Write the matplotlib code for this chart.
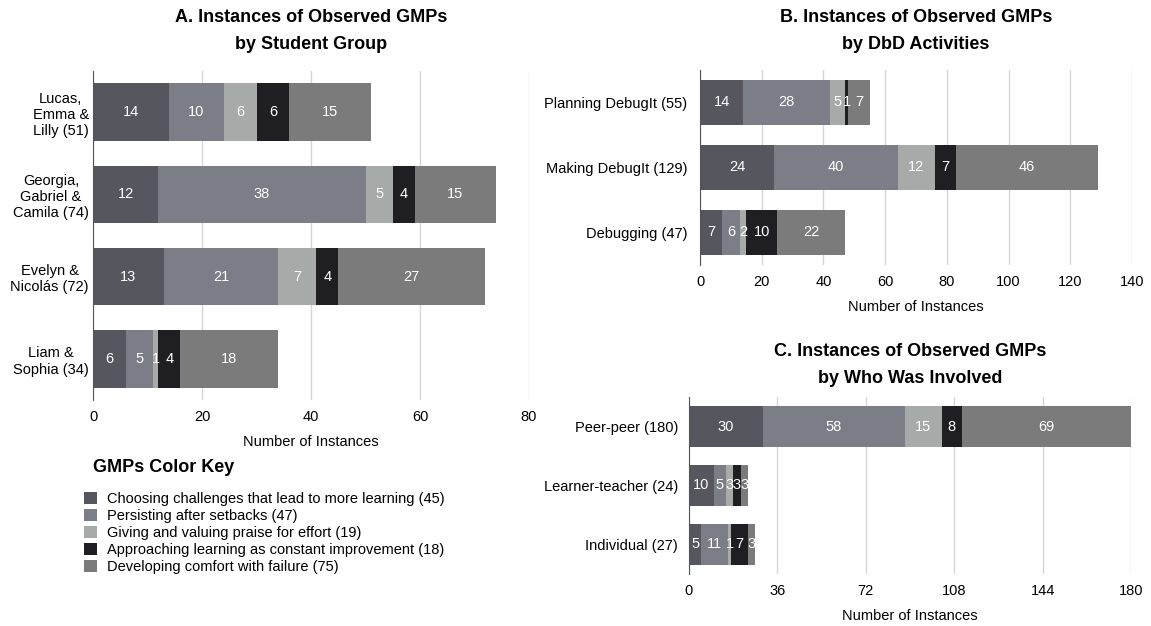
import matplotlib.pyplot as plt
import numpy as np

plt.rcParams['font.family'] = ['Liberation Sans', 'DejaVu Sans']

gmp_names = ["Choosing challenges that lead to more learning (45)",
             "Persisting after setbacks (47)",
             "Giving and valuing praise for effort (19)",
             "Approaching learning as constant improvement (18)",
             "Developing comfort with failure (75)"]
gmp_colors = ["#56565f", "#7b7e87", "#a6aaa9", "#1f1f23", "#7b7b7b"]

groups = ["Lucas,\nEmma &\nLilly (51)", "Georgia,\nGabriel &\nCamila (74)",
          "Evelyn &\nNicolás (72)", "Liam &\nSophia (34)"]
groups_vals = [[14, 12, 13, 6],
               [10, 38, 21, 5],
               [6, 5, 7, 1],
               [6, 4, 4, 4],
               [15, 15, 27, 18]]

activities = ["Planning DebugIt (55)", "Making DebugIt (129)", "Debugging (47)"]
activities_vals = [[14, 24, 7],
                   [28, 40, 6],
                   [5, 12, 2],
                   [1, 7, 10],
                   [7, 46, 22]]

involved = ["Peer-peer (180)", "Learner-teacher (24)", "Individual (27)"]
involved_vals = [[30, 10, 5],
                 [58, 5, 11],
                 [15, 3, 1],
                 [8, 3, 7],
                 [69, 3, 3]]


def stacked(ax, cats, vals, xmax, ticks, pad):
    y = np.arange(len(cats))
    left = np.zeros(len(cats))
    for i, v in enumerate(vals):
        v = np.array(v)
        bars = ax.barh(y, v, left=left, height=0.7, color=gmp_colors[i], label=gmp_names[i])
        ax.bar_label(bars, labels=[str(x) for x in v], label_type='center',
                     color='white', fontsize=10.5)
        left = left + v
    ax.set_yticks(y)
    ax.set_yticklabels(cats, fontsize=10.5)
    for lab in ax.get_yticklabels():
        lab.set_multialignment('center')
    ax.set_ylim(len(cats) - 0.5, -0.5)
    ax.set_xlim(0, xmax)
    ax.set_xticks(ticks)
    ax.tick_params(axis='x', length=0, pad=7, labelsize=10.5)
    ax.tick_params(axis='y', length=0, pad=pad)
    ax.grid(axis='x', color='#d6d6d6', lw=1)
    ax.set_axisbelow(True)
    for s in ['top', 'right', 'bottom']:
        ax.spines[s].set_visible(False)
    ax.spines['left'].set_color('#555555')
    ax.set_xlabel("Number of Instances", fontsize=10.5, labelpad=8)


fig = plt.figure(figsize=(11.51, 6.26), dpi=100)

axA = fig.add_axes([0.0808, 0.361, 0.3788, 0.5256])
stacked(axA, groups, groups_vals, 80, [0, 20, 40, 60, 80], 3)

axB = fig.add_axes([0.6082, 0.5767, 0.3753, 0.3115])
stacked(axB, activities, activities_vals, 140, [0, 20, 40, 60, 80, 100, 120, 140], 9)

axC = fig.add_axes([0.5986, 0.0831, 0.384, 0.2827])
stacked(axC, involved, involved_vals, 180, [0, 36, 72, 108, 144, 180], 8)

fig.text(311 / 1151, 1 - 31 / 626, "A. Instances of Observed GMPs\nby Student Group",
         ha='center', va='center', fontsize=13, fontweight='bold', linespacing=1.75)
fig.text(916 / 1151, 1 - 31 / 626, "B. Instances of Observed GMPs\nby DbD Activities",
         ha='center', va='center', fontsize=13, fontweight='bold', linespacing=1.75)
fig.text(910 / 1151, 1 - 365 / 626, "C. Instances of Observed GMPs\nby Who Was Involved",
         ha='center', va='center', fontsize=13, fontweight='bold', linespacing=1.75)

fig.text(93 / 1151, 1 - 467 / 626, "GMPs Color Key", ha='left', va='center',
         fontsize=13, fontweight='bold')
handles, labels = axA.get_legend_handles_labels()
leg = fig.legend(handles, labels, loc='upper left', bbox_to_anchor=(77 / 1151, 1 - 485 / 626),
                 frameon=False, fontsize=10.5,
                 handlelength=0.85, handleheight=0.85,
                 handletextpad=0.7, labelspacing=0.2, borderpad=0)

fig.savefig("out.png", dpi=100)
